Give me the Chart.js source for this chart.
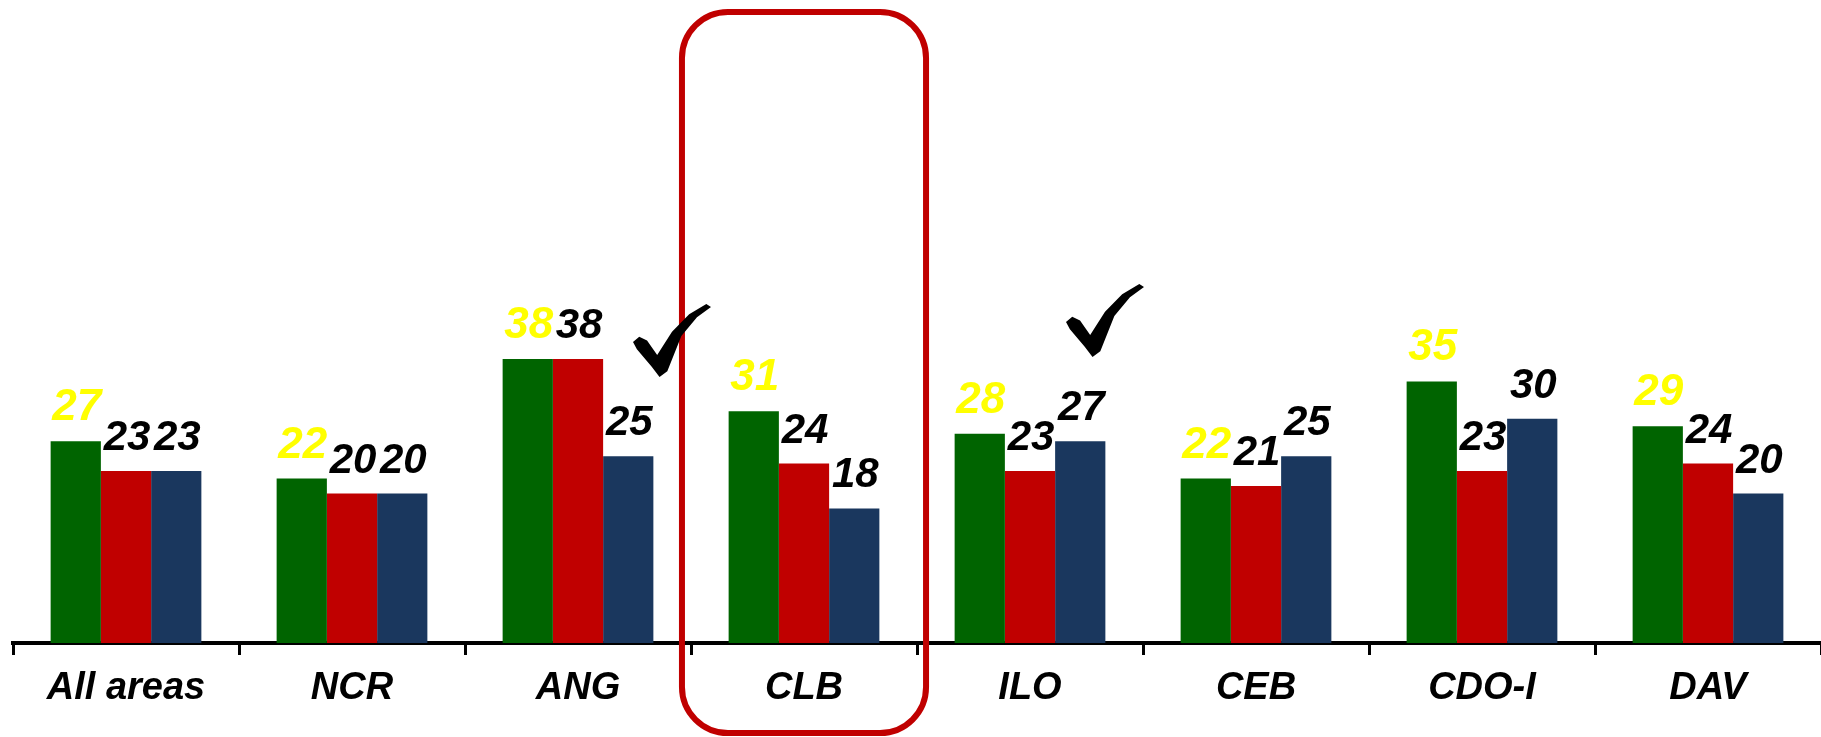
<!DOCTYPE html>
<html>
<head>
<meta charset="utf-8">
<script src="https://cdn.jsdelivr.net/npm/chart.js@4"></script>
<style>
  html, body { margin: 0; padding: 0; background: #fff; overflow: hidden; }
  #wrap { width: 1821px; height: 737px; }
</style>
</head>
<body>
<div id="wrap"><canvas id="areasChart"></canvas></div>
<script>
const areas = ['All areas', 'NCR', 'ANG', 'CLB', 'ILO', 'CEB', 'CDO-I', 'DAV']
const greenValues = [27, 22, 38, 31, 28, 22, 35, 29]
const redValues = [23, 20, 38, 24, 23, 21, 23, 24]
const blueValues = [23, 20, 25, 18, 27, 25, 30, 20]
const highlighted = 'CLB'
const checked = ['ANG', 'ILO']

const fontFamily = '"Liberation Sans", Arial, sans-serif'

// value labels above each bar
const valueLabels = {
    id: 'valueLabels',
    afterDatasetsDraw(chart) {
        const ctx = chart.ctx
        ctx.save()
        ctx.textAlign = 'center'
        ctx.textBaseline = 'alphabetic'
        chart.data.datasets.forEach(function(ds, i) {
            ctx.fillStyle = i === 0 ? '#ffff00' : '#000000'
            ctx.font = 'bold italic ' + (i === 0 ? 44 : 42) + 'px ' + fontFamily
            chart.getDatasetMeta(i).data.forEach(function(bar, j) {
                ctx.fillText(ds.data[j], bar.x + 1, bar.y - 21)
            })
        })
        ctx.restore()
    }
}

// red rounded box + check marks
const marks = {
    id: 'marks',
    afterDraw(chart) {
        const ctx = chart.ctx
        const x = chart.scales.x
        const step = x.width / areas.length
        ctx.save()

        const cx = x.getPixelForValue(areas.indexOf(highlighted))
        const w = step * 1.08
        ctx.strokeStyle = '#c00000'
        ctx.lineWidth = 6
        ctx.beginPath()
        ctx.roundRect(cx - w / 2, 12, w, 721, 46)
        ctx.stroke()

        const pts = [[0, .52], [.08, .45], [.18, .5], [.31, .7], [.5, .38], [.72, .14], [.94, 0], [1, .04],
                     [.82, .18], [.62, .44], [.44, .92], [.34, 1], [.24, .86], [.05, .62]]
        const spots = [[55, 304], [36, 284]]
        ctx.fillStyle = '#000'
        checked.forEach(function(name, k) {
            const px = x.getPixelForValue(areas.indexOf(name)) + spots[k][0]
            const py = spots[k][1]
            ctx.beginPath()
            pts.forEach(function(p, n) {
                const X = px + p[0] * 78, Y = py + p[1] * 73
                if (n === 0) ctx.moveTo(X, Y)
                else ctx.lineTo(X, Y)
            })
            ctx.closePath()
            ctx.fill()
        })
        ctx.restore()
    }
}

new Chart(document.getElementById('areasChart'), {
    type: 'bar',
    data: {
        labels: areas,
        datasets: [
            { label: 'Series 1', data: greenValues, backgroundColor: '#006400' },
            { label: 'Series 2', data: redValues, backgroundColor: '#c00000' },
            { label: 'Series 3', data: blueValues, backgroundColor: '#1a375e' }
        ]
    },
    options: {
        responsive: true,
        maintainAspectRatio: false,
        animation: false,
        categoryPercentage: 0.667,
        barPercentage: 1.0,
        layout: { padding: { left: 13, right: 0, top: 45, bottom: 0 } },
        plugins: { legend: { display: false }, tooltip: { enabled: false } },
        scales: {
            x: {
                grid: { display: true, drawOnChartArea: false, drawTicks: true, tickLength: 12, color: '#000', lineWidth: 3, offset: true },
                border: { display: true, color: '#000', width: 4 },
                ticks: { color: '#000', padding: 11, font: { family: fontFamily, size: 38, weight: 'bold', style: 'italic' } },
                afterFit: function(s) { s.height = 94 }
            },
            y: {
                display: false,
                min: 0,
                max: 80
            }
        }
    },
    plugins: [valueLabels, marks]
})
</script>
</body>
</html>
